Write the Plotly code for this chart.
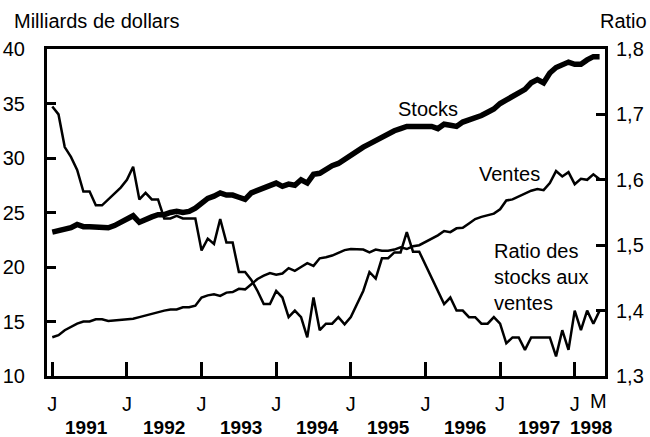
import plotly.graph_objects as go
import pandas as pd

# ---- data (monthly, Jan 1991 - May 1998) ----
months = [d.strftime("%Y-%m") for d in pd.date_range("1991-01-01", "1998-05-01", freq="MS")]

stocks = [23.2, 23.3, 23.4, 23.6, 23.9, 23.7, 23.7, 23.7, 23.6, 23.6, 23.8, 24.1,
          24.3, 24.7, 24.1, 24.4, 24.6, 24.8, 24.8, 25.0, 25.1, 25.0, 25.1, 25.4,
          25.8, 26.3, 26.5, 26.8, 26.6, 26.6, 26.4, 26.2, 26.8, 27.0, 27.2, 27.5,
          27.7, 27.4, 27.6, 27.5, 28.0, 27.7, 28.5, 28.6, 29.0, 29.3, 29.5, 29.9,
          30.3, 30.6, 31.0, 31.3, 31.6, 32.0, 32.2, 32.5, 32.7, 32.9, 32.9, 32.9,
          32.9, 32.9, 32.7, 33.1, 33.0, 32.9, 33.3, 33.5, 33.6, 33.9, 34.2, 34.5,
          35.0, 35.3, 35.6, 35.9, 36.3, 36.9, 37.2, 36.9, 37.8, 38.3, 38.6, 38.8,
          38.6, 38.6, 39.0, 39.3, 39.3]

ventes = [13.55, 13.75, 14.2, 14.5, 14.8, 15.0, 15.0, 15.2, 15.2, 15.05, 15.1, 15.2,
          15.2, 15.25, 15.4, 15.55, 15.75, 15.9, 16.0, 16.1, 16.1, 16.3, 16.3, 16.45,
          17.2, 17.4, 17.5, 17.35, 17.65, 17.7, 18.0, 17.95, 18.4, 18.9, 19.2, 19.45,
          19.3, 19.4, 19.9, 19.65, 20.0, 20.35, 20.1, 20.8, 20.9, 21.05, 21.3, 21.55,
          21.65, 21.6, 21.6, 21.35, 21.6, 21.5, 21.5, 21.6, 21.8, 21.65, 21.9, 22.0,
          22.3, 22.6, 22.9, 23.3, 23.2, 23.55, 23.6, 24.0, 24.4, 24.6, 24.75, 24.9,
          25.3, 26.1, 26.2, 26.45, 26.7, 27.0, 27.15, 27.05, 27.7, 28.8, 28.3, 28.7,
          27.6, 28.1, 28.0, 28.5, 28.05]

ratio = [1.712, 1.700, 1.650, 1.635, 1.615, 1.582, 1.582, 1.561, 1.561, 1.570, 1.578, 1.588,
         1.600, 1.620, 1.570, 1.580, 1.570, 1.570, 1.541, 1.541, 1.545, 1.541, 1.541, 1.541,
         1.492, 1.510, 1.502, 1.540, 1.504, 1.504, 1.459, 1.459, 1.447, 1.430, 1.410, 1.410,
         1.430, 1.420, 1.390, 1.400, 1.390, 1.359, 1.420, 1.370, 1.380, 1.380, 1.390, 1.379,
         1.390, 1.410, 1.430, 1.459, 1.449, 1.480, 1.480, 1.489, 1.489, 1.520, 1.490, 1.490,
         1.470, 1.450, 1.430, 1.410, 1.420, 1.400, 1.400, 1.390, 1.390, 1.380, 1.380, 1.390,
         1.380, 1.350, 1.359, 1.359, 1.340, 1.359, 1.359, 1.359, 1.359, 1.330, 1.370, 1.340,
         1.400, 1.370, 1.400, 1.380, 1.400]

left_ticks = [10, 15, 20, 25, 30, 35, 40]
right_ticks = [1.3, 1.4, 1.5, 1.6, 1.7, 1.8]
right_tick_text = ["1,3", "1,4", "1,5", "1,6", "1,7", "1,8"]
year_labels = ["1991", "1992", "1993", "1994", "1995", "1996", "1997", "1998"]

x = list(range(len(months)))
jan_idx = [i for i, m in enumerate(months) if m.endswith("-01")]

FONT = "Liberation Sans, Arial, sans-serif"
FS = 20

L, R, T, B = 47, 605, 49, 376   # plot area in window pixels
W, H = 650, 437
PW, PH = R - L, B - T

def px(xp):
    return (xp - L) / PW

def py(yp):
    return (B - yp) / PH

fig = go.Figure()
fig.add_trace(go.Scatter(x=x, y=stocks, mode="lines",
                         line=dict(color="black", width=5.5), yaxis="y"))
fig.add_trace(go.Scatter(x=x, y=ventes, mode="lines",
                         line=dict(color="black", width=2.5), yaxis="y"))
fig.add_trace(go.Scatter(x=x, y=ratio, mode="lines",
                         line=dict(color="black", width=2.5), yaxis="y2"))

fig.update_layout(
    template="none",
    width=W, height=H,
    margin=dict(l=L, r=W - R, t=T, b=H - B, pad=0, autoexpand=False),
    paper_bgcolor="white", plot_bgcolor="white",
    showlegend=False,
    font=dict(family=FONT, size=FS, color="black"),
    xaxis=dict(range=[-0.85, 88.87], showgrid=False, zeroline=False, automargin=False,
               showline=True, linecolor="black", linewidth=3, mirror=True,
               ticks="inside", ticklen=14, tickwidth=3, tickcolor="black",
               tickvals=jan_idx, ticktext=["J"] * len(jan_idx),
               tickfont=dict(family=FONT, size=FS), ticklabelstandoff=8),
    yaxis=dict(range=[10, 40], showgrid=False, zeroline=False, automargin=False,
               showline=True, linecolor="black", linewidth=3,
               ticks="inside", ticklen=9, tickwidth=3, tickcolor="black",
               tickvals=left_ticks, tickfont=dict(family=FONT, size=FS),
               ticklabelstandoff=15),
    yaxis2=dict(range=[1.3, 1.8], overlaying="y", side="right", automargin=False,
                showgrid=False, zeroline=False,
                showline=True, linecolor="black", linewidth=3,
                ticks="inside", ticklen=9, tickwidth=3, tickcolor="black",
                tickvals=right_ticks, ticktext=right_tick_text,
                tickfont=dict(family=FONT, size=FS), ticklabelstandoff=4),
)

ann = []
ann.append(dict(text="Milliards de dollars", xref="paper", yref="paper",
                x=px(12), y=py(21), xanchor="left", yanchor="middle",
                showarrow=False, font=dict(family=FONT, size=FS)))
ann.append(dict(text="Ratio", xref="paper", yref="paper",
                x=px(649), y=py(21), xanchor="right", yanchor="middle",
                showarrow=False, font=dict(family=FONT, size=FS)))
ann.append(dict(text="Stocks", xref="paper", yref="paper",
                x=px(428), y=py(109), xanchor="center", yanchor="middle",
                showarrow=False, font=dict(family=FONT, size=FS)))
ann.append(dict(text="Ventes", xref="paper", yref="paper",
                x=px(509), y=py(174), xanchor="center", yanchor="middle",
                showarrow=False, font=dict(family=FONT, size=FS)))
ann.append(dict(text="Ratio des<br>stocks aux<br>ventes", xref="paper", yref="paper",
                x=px(492), y=py(277), xanchor="left", yanchor="middle",
                align="left", showarrow=False, font=dict(family=FONT, size=FS)))
# "M" for May 1998 (no tick mark)
ann.append(dict(text="M", xref="x", yref="paper", x=87.8, y=py(401),
                xanchor="center", yanchor="middle", showarrow=False,
                font=dict(family=FONT, size=FS)))
year_pos = [5.5, 18.0, 30.3, 42.7, 54.1, 66.35, 78.2, 86.6]
for lab, xp in zip(year_labels, year_pos):
    ann.append(dict(text="<b>%s</b>" % lab, xref="x", yref="paper", x=xp,
                    y=py(427), xanchor="center", yanchor="middle",
                    showarrow=False, font=dict(family=FONT, size=19)))
fig.update_layout(annotations=ann)

# remove the browser's default 8px body margin so the figure fills the window
fig.write_html("out.html",
               config={"displayModeBar": False},
               post_script="document.body.style.margin='0';document.body.style.overflow='hidden';")
